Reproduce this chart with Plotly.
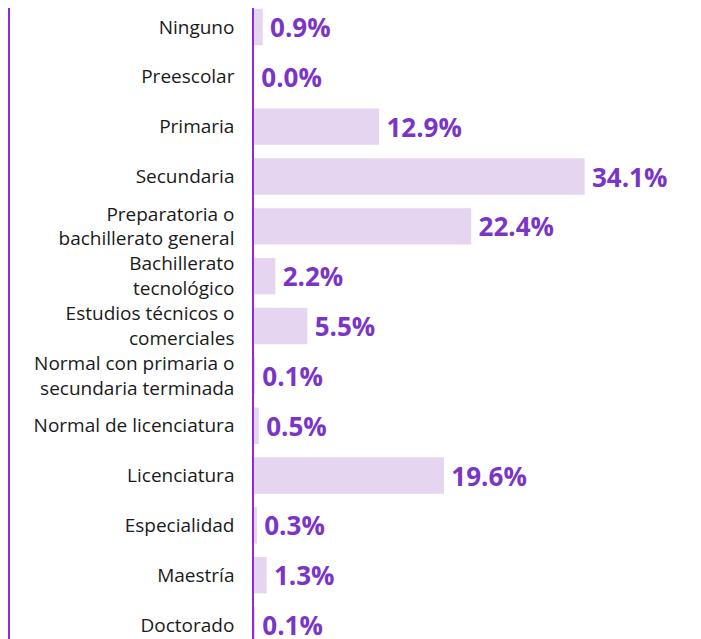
import plotly.graph_objects as go

categories = [
    "Ninguno",
    "Preescolar",
    "Primaria",
    "Secundaria",
    "Preparatoria o<br>bachillerato general",
    "Bachillerato<br>tecnológico",
    "Estudios técnicos o<br>comerciales",
    "Normal con primaria o<br>secundaria terminada",
    "Normal de licenciatura",
    "Licenciatura",
    "Especialidad",
    "Maestría",
    "Doctorado",
]
values = [0.9, 0.0, 12.9, 34.1, 22.4, 2.2, 5.5, 0.1, 0.5, 19.6, 0.3, 1.3, 0.1]
labels = ["0.9%", "0.0%", "12.9%", "34.1%", "22.4%", "2.2%", "5.5%",
          "0.1%", "0.5%", "19.6%", "0.3%", "1.3%", "0.1%"]

PURPLE = "#7B35C6"
LINE = "#8A2BE2"
BAR = "#E5D5F0"

fig = go.Figure(go.Bar(
    x=values,
    y=categories,
    orientation="h",
    marker=dict(color=BAR, line=dict(width=0)),
    text=labels,
    texttemplate="\u2009%{text}",
    textposition="outside",
    textfont=dict(family="Open Sans", size=26, color=PURPLE, weight="bold"),
    cliponaxis=False,
    hoverinfo="skip",
))

fig.update_layout(
    width=693,
    height=631,
    margin=dict(l=246, r=0, t=0, b=0, autoexpand=False),
    paper_bgcolor="white",
    plot_bgcolor="white",
    bargap=0.27,
    showlegend=False,
    xaxis=dict(range=[0, 46.1], visible=False, showgrid=False,
               zeroline=False, automargin=False),
    yaxis=dict(
        range=[12.28, -0.381],
        automargin=False,
        showline=True, linecolor=LINE, linewidth=1.5,
        showgrid=False, zeroline=False,
        ticks="", ticklabelstandoff=14,
        tickfont=dict(family="Open Sans", size=19, color="#1a1a1a"),
    ),
    shapes=[dict(type="line", xref="paper", yref="paper",
                 x0=-245/447, x1=-245/447, y0=-0.05, y1=1.05,
                 line=dict(color=LINE, width=2))],
)

fig.write_html("out.html")
